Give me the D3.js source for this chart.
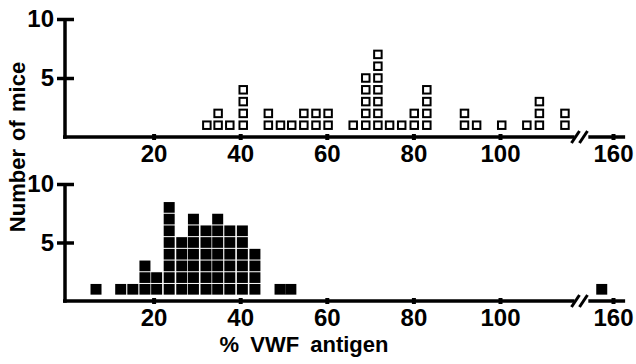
<!DOCTYPE html>
<html>
<head>
<meta charset="utf-8">
<script src="https://cdn.jsdelivr.net/npm/d3@7"></script>
<style>
  body { margin: 0; background: #fff; }
  svg { display: block; font-family: "Liberation Sans", Arial, Helvetica, sans-serif; font-weight: bold; }
</style>
</head>
<body>
<svg id="chart" width="636" height="364"></svg>
<script>
// column position (% VWF antigen) and number of mice stacked in it
const topPct = [32.3, 34.9, 37.6, 40.7, 46.5, 49.3, 51.9, 54.7, 57.5, 60.3, 66.1, 69.0,
                71.8, 74.5, 77.3, 80.2, 83.1, 91.8, 94.6, 100.4, 106.2, 109.1, 115.0];
const topCounts = [1, 2, 1, 4, 2, 1, 1, 2, 2, 2, 1, 5, 7, 1, 1, 2, 4, 2, 1, 1, 1, 3, 2];

const bottomPct = [6.7, 12.4, 15.2, 18.0, 20.7, 23.6, 26.5, 29.2, 32.1, 34.8, 37.6, 40.5,
                   43.4, 49.2, 51.7, 157.4];
const bottomCounts = [1, 1, 1, 3, 2, 8, 5, 7, 6, 7, 6, 6, 4, 1, 1, 1];

const xTicks = [20, 40, 60, 80, 100];
const breakTicks = [160];
const yTicks = [5, 10];
// where the axis stops before the break and restarts after it
const axisMainEnd = 117.2;
const axisBreakStart = 154.3;
const axisBreakEnd = 162.8;

const svg = d3.select("#chart");

const x = d3.scaleLinear().domain([0, 100]).range([67, 500]);
const slope = (x(100) - x(0)) / 100;
const xBrk = d3.scaleLinear().domain([150, 170]).range([613 - 10 * slope, 613 + 10 * slope]);
const pos = v => v > 130 ? xBrk(v) : x(v);

const panels = [
  {pct: topPct, counts: topCounts, y: d3.scaleLinear().domain([0, 10]).range([137, 19]), filled: false},
  {pct: bottomPct, counts: bottomCounts, y: d3.scaleLinear().domain([0, 10]).range([301, 184]), filled: true}
];

function styleAxis(g) {
  g.select(".domain").remove();
  g.attr("font-size", 24).attr("font-family", null);
  g.selectAll("text").attr("fill", "#000");
}

panels.forEach(p => {
  const g = svg.append("g");
  const y0 = p.y(0);

  // y axis line
  g.append("line")
    .attr("x1", 65).attr("x2", 65)
    .attr("y1", p.y(10) - 1).attr("y2", y0 + 1.75)
    .attr("stroke", "#000").attr("stroke-width", 3.5);

  // x axis line, broken
  g.append("line")
    .attr("x1", 63).attr("x2", pos(axisMainEnd))
    .attr("y1", y0).attr("y2", y0)
    .attr("stroke", "#000").attr("stroke-width", 3.5);
  g.append("line")
    .attr("x1", pos(axisBreakStart)).attr("x2", pos(axisBreakEnd))
    .attr("y1", y0).attr("y2", y0)
    .attr("stroke", "#000").attr("stroke-width", 3.5);

  // break marks
  [0, 8].forEach(dx => {
    const bx = pos(axisMainEnd) - 3 + dx;
    g.append("line")
      .attr("x1", bx).attr("y1", y0 + 6)
      .attr("x2", bx + 8).attr("y2", y0 - 6)
      .attr("stroke", "#000").attr("stroke-width", 3);
  });

  // x ticks
  g.append("g")
    .attr("transform", `translate(0, ${y0 - 3})`)
    .call(d3.axisBottom(x).tickValues(xTicks).tickSize(6).tickPadding(5))
    .call(styleAxis)
    .selectAll("line").attr("stroke-width", 4);
  g.append("g")
    .attr("transform", `translate(0, ${y0 - 3})`)
    .call(d3.axisBottom(xBrk).tickValues(breakTicks).tickSize(6).tickPadding(5))
    .call(styleAxis)
    .selectAll("line").attr("stroke-width", 4);

  // y ticks
  g.append("g")
    .attr("transform", "translate(74, 0)")
    .call(d3.axisLeft(p.y).tickValues(yTicks).tickSize(17).tickPadding(3))
    .call(styleAxis)
    .selectAll("line").attr("stroke-width", 3.5);

  // one box per mouse
  const boxes = p.pct.flatMap((v, i) => d3.range(1, p.counts[i] + 1).map(k => ({v, k})));
  const bw = p.filled ? 11 : 7.5;
  const bh = p.filled ? 10.7 : 7.5;
  g.selectAll("rect.box")
    .data(boxes)
    .enter()
    .append("rect")
    .attr("class", "box")
    .attr("x", d => pos(d.v) - bw / 2)
    .attr("y", d => p.y(d.k) - bh / 2)
    .attr("width", bw)
    .attr("height", bh)
    .attr("fill", p.filled ? "#000" : "#fff")
    .attr("stroke", p.filled ? "none" : "#000")
    .attr("stroke-width", 2);
});

svg.append("text")
  .attr("transform", "translate(25, 147) rotate(-90)")
  .attr("text-anchor", "middle")
  .attr("font-size", 22)
  .attr("word-spacing", 2)
  .text("Number of mice");

svg.append("text")
  .attr("x", 304).attr("y", 352)
  .attr("text-anchor", "middle")
  .attr("font-size", 22)
  .attr("word-spacing", 5)
  .text("% VWF antigen");
</script>
</body>
</html>
